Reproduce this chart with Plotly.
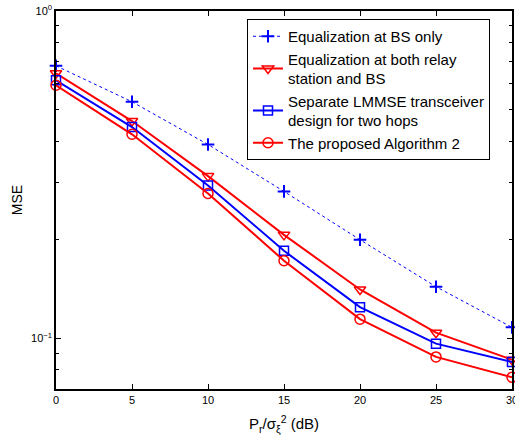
import plotly.graph_objects as go

snr_db = [0, 5, 10, 15, 20, 25, 30]
mse_bs_only = [0.68, 0.528, 0.391, 0.281, 0.200, 0.1437, 0.108]
mse_relay_bs = [0.645, 0.461, 0.313, 0.207, 0.141, 0.104, 0.086]
mse_separate = [0.614, 0.442, 0.293, 0.185, 0.1245, 0.0963, 0.0846]
mse_proposed = [0.593, 0.420, 0.277, 0.1726, 0.1144, 0.0877, 0.076]

names = [
    "Equalization at BS only",
    "Equalization at both relay<br>station and BS",
    "Separate LMMSE transceiver<br>design for two hops",
    "The proposed Algorithm 2",
]

BLUE = "#0000ff"
RED = "#ff0000"

fig = go.Figure()
fig.add_trace(go.Scatter(
    x=snr_db, y=mse_bs_only, name=names[0], mode="lines+markers", cliponaxis=False,
    line=dict(color=BLUE, width=1, dash="dot"),
    marker=dict(symbol="cross-thin-open", size=9, color=BLUE, line=dict(width=2, color=BLUE)),
))
fig.add_trace(go.Scatter(
    x=snr_db, y=mse_relay_bs, name=names[1], mode="lines+markers", cliponaxis=False,
    line=dict(color=RED, width=2),
    marker=dict(symbol="triangle-down-open", size=10, color=RED, line=dict(width=1.5, color=RED)),
))
fig.add_trace(go.Scatter(
    x=snr_db, y=mse_separate, name=names[2], mode="lines+markers", cliponaxis=False,
    line=dict(color=BLUE, width=2),
    marker=dict(symbol="square-open", size=9, color=BLUE, line=dict(width=1.5, color=BLUE)),
))
fig.add_trace(go.Scatter(
    x=snr_db, y=mse_proposed, name=names[3], mode="lines+markers", cliponaxis=False,
    line=dict(color=RED, width=2),
    marker=dict(symbol="circle-open", size=10, color=RED, line=dict(width=1.5, color=RED)),
))

fig.update_layout(
    width=515, height=441,
    margin=dict(l=56, r=3, t=11, b=52, autoexpand=False),
    paper_bgcolor="white", plot_bgcolor="white",
    font=dict(family="Liberation Sans, Arial, sans-serif", size=11, color="black"),
    showlegend=True,
    legend=dict(
        x=(247 - 56) / 456, y=(389 - 19) / 378, xanchor="left", yanchor="top",
        bordercolor="black", borderwidth=1, bgcolor="white",
        font=dict(family="Liberation Sans, Arial, sans-serif", size=15, color="black"),
        tracegroupgap=0, itemwidth=30,
    ),
)
fig.update_xaxes(
    range=[0, 30], tickvals=[0, 5, 10, 15, 20, 25, 30], automargin=False,
    ticklabeloverflow="allow",
    ticks="inside", ticklen=5, tickcolor="black", tickfont=dict(size=11),
    showline=True, linecolor="black", linewidth=1.5, mirror="ticks",
    showgrid=False, zeroline=False,
    title=dict(text="P<sub>r</sub>/σ<sub>ξ</sub><sup>2</sup> (dB)", font=dict(size=15), standoff=14),
)
fig.update_yaxes(
    type="log", range=[-1.155, 0], automargin=False,
    ticklabeloverflow="allow",
    tickvals=[0.1, 1], ticktext=["10<sup>−1</sup>", "10<sup>0</sup>"],
    ticks="inside", ticklen=5, tickcolor="black", tickfont=dict(size=11),
    minor=dict(ticks="inside", ticklen=3, tickcolor="black",
               tickvals=[0.08, 0.09, 0.2, 0.3, 0.4, 0.5, 0.6, 0.7, 0.8, 0.9], showgrid=False),
    showline=True, linecolor="black", linewidth=1.5, mirror="ticks",
    showgrid=False, zeroline=False,
    title=dict(text="MSE", font=dict(size=14), standoff=5),
)

fig.write_html(
    "out.html",
    config={"displayModeBar": False},
    post_script="document.body.style.margin='0';document.body.style.overflow='hidden';",
)
